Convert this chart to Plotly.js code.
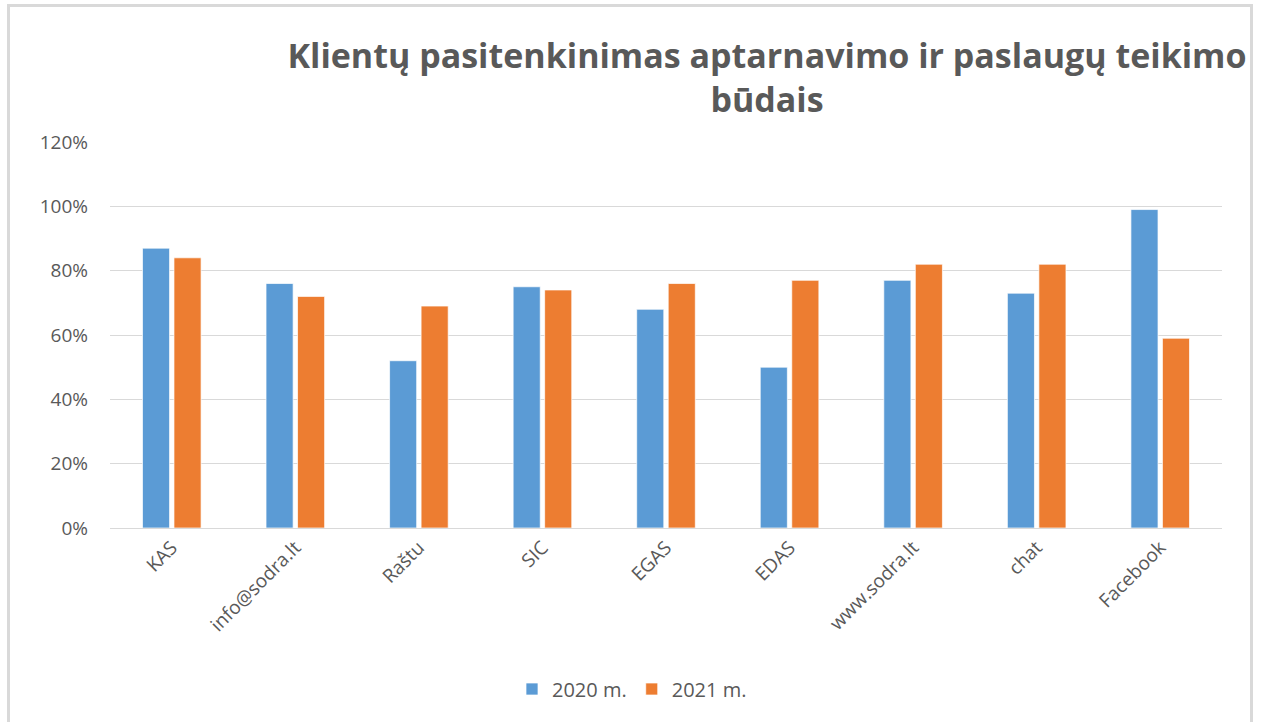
<!DOCTYPE html>
<html>
<head>
<meta charset="utf-8">
<script src="https://cdn.plot.ly/plotly-3.0.1.min.js"></script>
<style>
  html, body { margin: 0; padding: 0; background: #ffffff; }
  #wrap { position: relative; width: 1261px; height: 722px; overflow: hidden; }
  #chart { position: absolute; left: 0; top: 0; width: 1261px; height: 722px; }
  #frame { position: absolute; left: 7px; top: 4px; width: 1246px; height: 730px;
           border: 3px solid #d9d9d9; box-sizing: border-box; pointer-events: none; }
</style>
</head>
<body>
<div id="wrap">
  <div id="chart"></div>
  <div id="frame"></div>
</div>
<script>
const categories = ["KAS", "info@sodra.lt", "Raštu", "SIC", "EGAS", "EDAS", "www.sodra.lt", "chat", "Facebook"];
const values2020 = [0.87, 0.76, 0.52, 0.75, 0.68, 0.50, 0.77, 0.73, 0.99];
const values2021 = [0.84, 0.72, 0.69, 0.74, 0.76, 0.77, 0.82, 0.82, 0.59];
const seriesNames = ["2020 m.", "2021 m."];
const yTickVals = [0, 0.2, 0.4, 0.6, 0.8, 1.0, 1.2];
const yTickText = ["0%", "20%", "40%", "60%", "80%", "100%", "120%"];

const FONT = "'Open Sans', 'Noto Sans', sans-serif";
const GRAY = "#595959";

const traces = [
  {
    type: "bar", name: seriesNames[0], x: categories, y: values2020,
    marker: { color: "#5B9BD5", line: { color: "rgba(255,255,255,0.7)", width: 1 } },
    hoverinfo: "skip"
  },
  {
    type: "bar", name: seriesNames[1], x: categories, y: values2021,
    marker: { color: "#ED7D31", line: { color: "rgba(255,255,255,0.7)", width: 1 } },
    hoverinfo: "skip"
  }
];

const layout = {
  width: 1261, height: 722,
  paper_bgcolor: "#ffffff", plot_bgcolor: "#ffffff",
  margin: { l: 110, r: 39, t: 142, b: 194, pad: 0 },
  barmode: "group",
  bargap: 0.49,
  bargroupgap: 0.14,
  showlegend: true,
  font: { family: FONT, color: GRAY, size: 19 },
  title: {
    text: "<b>Klientų pasitenkinimas aptarnavimo ir paslaugų teikimo<br>būdais</b>",
    font: { family: FONT, size: 34, color: GRAY },
    xref: "container", x: 767 / 1261, xanchor: "center",
    yref: "container", y: 1 - 68 / 722, yanchor: "top"
  },
  xaxis: {
    type: "category",
    tickangle: -45,
    tickfont: { family: FONT, size: 19, color: GRAY },
    showline: true, linecolor: "#d9d9d9", linewidth: 1,
    ticks: "", showgrid: false, zeroline: false
  },
  yaxis: {
    range: [0, 1.2],
    tickvals: yTickVals, ticktext: yTickText,
    tickfont: { family: FONT, size: 19, color: GRAY },
    showgrid: true, gridcolor: "#d9d9d9", gridwidth: 1,
    zeroline: false, showline: false, ticks: "",
    ticklabelstandoff: 21
  },
  legend: {
    orientation: "h",
    xref: "container", x: 632 / 1261, xanchor: "center",
    yref: "container", y: 1 - 689 / 722, yanchor: "middle",
    font: { family: FONT, size: 20, color: GRAY },
    itemwidth: 30, traceorder: "normal"
  }
};

Plotly.newPlot("chart", traces, layout, { displayModeBar: false, staticPlot: true });
</script>
</body>
</html>
